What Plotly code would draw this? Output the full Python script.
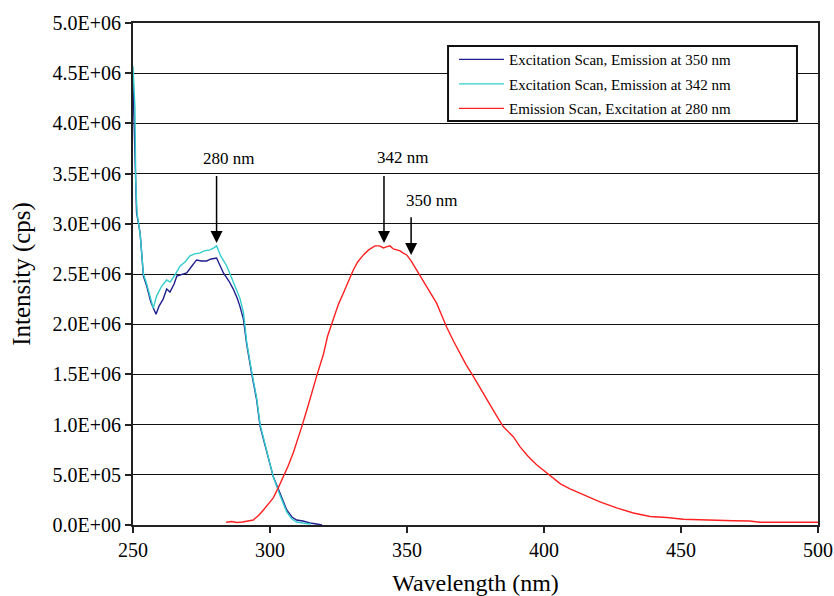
import plotly.graph_objects as go

# Excitation scan, emission at 350 nm (navy)
ex350_x = [250.0, 250.5, 251.3, 252.6, 253.8, 255.0, 256.5, 258.4, 259.5, 261.0, 262.3, 263.5,
           265.0, 266.0, 268.0, 269.6, 271.5, 273.2, 275.0, 276.9, 278.5, 280.5, 281.5, 283.0,
           285.0, 286.6, 288.0, 289.0, 290.3, 291.5, 293.3, 295.1, 296.4, 298.8, 301.2, 303.6,
           306.1, 308.0, 309.7, 312.0, 314.6, 317.0, 319.0]
ex350_y = [4.41e6, 3.97e6, 3.11e6, 2.91e6, 2.48e6, 2.38e6, 2.22e6, 2.10e6, 2.18e6, 2.25e6, 2.35e6, 2.32e6,
           2.40e6, 2.48e6, 2.50e6, 2.51e6, 2.58e6, 2.64e6, 2.63e6, 2.63e6, 2.65e6, 2.66e6, 2.60e6, 2.51e6,
           2.43e6, 2.35e6, 2.26e6, 2.18e6, 2.05e6, 1.80e6, 1.51e6, 1.25e6, 0.98e6, 0.72e6, 0.48e6, 0.32e6,
           0.15e6, 0.08e6, 0.05e6, 0.04e6, 0.02e6, 0.01e6, 0.0]

# Excitation scan, emission at 342 nm (cyan)
ex342_x = [250.0, 250.3, 250.7, 251.0, 251.5, 252.6, 253.8, 255.0, 256.5, 257.4, 258.6, 260.5,
           262.3, 263.5, 265.3, 267.2, 269.0, 270.8, 272.5, 274.5, 276.0, 278.1, 279.5, 280.5,
           282.0, 284.2, 286.0, 287.8, 289.0, 290.3, 291.5, 293.3, 295.1, 296.4, 298.8, 301.2,
           303.6, 306.1, 308.0, 309.7, 312.0, 315.0]
ex342_y = [4.57e6, 4.40e6, 4.16e6, 3.43e6, 3.10e6, 2.90e6, 2.50e6, 2.40e6, 2.25e6, 2.16e6, 2.28e6, 2.38e6,
           2.44e6, 2.42e6, 2.49e6, 2.58e6, 2.62e6, 2.68e6, 2.70e6, 2.71e6, 2.73e6, 2.74e6, 2.76e6, 2.78e6,
           2.68e6, 2.58e6, 2.46e6, 2.35e6, 2.26e6, 2.12e6, 1.82e6, 1.53e6, 1.27e6, 1.00e6, 0.73e6, 0.48e6,
           0.30e6, 0.13e6, 0.06e6, 0.03e6, 0.02e6, 0.01e6]

# Emission scan, excitation at 280 nm (red)
em280_x = [284.0, 286.0, 288.0, 290.0, 293.9, 296.0, 297.6, 299.5, 301.2, 303.0, 304.9, 306.5,
           308.5, 310.0, 311.6, 313.5, 315.0, 317.0, 319.5, 321.0, 323.1, 325.0, 326.8, 328.5,
           330.4, 332.0, 334.1, 336.0, 338.3, 340.0, 341.4, 342.5, 343.8, 345.0, 346.2, 347.5,
           348.5, 349.9, 351.5, 353.5, 355.5, 357.2, 359.0, 360.8, 362.5, 364.5, 367.0, 369.3,
           371.5, 374.2, 376.5, 379.1, 382.0, 385.1, 388.8, 391.2, 394.0, 397.3, 400.0, 403.4,
           406.0, 409.5, 414.3, 420.4, 426.5, 432.6, 438.7, 444.8, 450.8, 456.9, 463.0, 469.1,
           475.0, 478.8, 490.0, 500.0]
em280_y = [2.7e4, 3.5e4, 2.5e4, 3.0e4, 5.0e4, 1.0e5, 1.5e5, 2.1e5, 2.7e5, 3.7e5, 4.8e5, 5.8e5,
           7.2e5, 8.4e5, 9.8e5, 1.15e6, 1.30e6, 1.48e6, 1.70e6, 1.88e6, 2.05e6, 2.20e6, 2.31e6, 2.42e6,
           2.54e6, 2.62e6, 2.69e6, 2.74e6, 2.78e6, 2.78e6, 2.76e6, 2.77e6, 2.78e6, 2.75e6, 2.74e6, 2.73e6,
           2.71e6, 2.69e6, 2.63e6, 2.54e6, 2.46e6, 2.38e6, 2.30e6, 2.21e6, 2.10e6, 1.97e6, 1.83e6, 1.71e6,
           1.60e6, 1.48e6, 1.37e6, 1.25e6, 1.12e6, 0.98e6, 0.88e6, 0.78e6, 0.69e6, 0.60e6, 0.54e6, 0.47e6,
           0.41e6, 0.36e6, 0.30e6, 0.23e6, 0.17e6, 0.12e6, 0.085e6, 0.075e6, 0.057e6, 0.05e6, 0.047e6, 0.043e6,
           0.04e6, 0.027e6, 0.027e6, 0.027e6]

series_names = ["Excitation Scan, Emission at 350 nm",
                "Excitation Scan, Emission at 342 nm",
                "Emission Scan, Excitation at 280 nm"]

x_tick_vals = [250, 300, 350, 400, 450, 500]
y_tick_vals = [0, 5e5, 1e6, 1.5e6, 2e6, 2.5e6, 3e6, 3.5e6, 4e6, 4.5e6, 5e6]
y_tick_text = ["0.0E+00", "5.0E+05", "1.0E+06", "1.5E+06", "2.0E+06", "2.5E+06",
               "3.0E+06", "3.5E+06", "4.0E+06", "4.5E+06", "5.0E+06"]

# annotations: label, arrow x, arrow tail y, arrow tip y, label x, label y
peak_labels = ["280 nm", "342 nm", "350 nm"]
peak_arrow_x = [280.5, 341.6, 351.5]
peak_arrow_tail = [3.49e6, 3.49e6, 3.08e6]
peak_arrow_tip = [2.81e6, 2.81e6, 2.69e6]
peak_label_x = [284.7, 348.4, 359.0]
peak_label_y = [3.65e6, 3.66e6, 3.23e6]

FONT = "Liberation Serif"

fig = go.Figure()
colors = ["#1f1f8f", "#33cccc", "#ff2020"]
for i, (xs, ys, nm, c) in enumerate(zip([ex350_x, ex342_x, em280_x], [ex350_y, ex342_y, em280_y],
                                        series_names, colors)):
    fig.add_trace(go.Scatter(x=xs, y=ys, mode="lines", name=nm, legendgroup=f"g{i}",
                             line=dict(color=c, width=1.4)))

for lab, ax_, tail, tip, lx, ly in zip(peak_labels, peak_arrow_x, peak_arrow_tail, peak_arrow_tip,
                                       peak_label_x, peak_label_y):
    fig.add_annotation(x=ax_, y=tip, ax=ax_, ay=tail, axref="x", ayref="y", xref="x", yref="y",
                       text="", showarrow=True, arrowhead=2, arrowsize=1.6, arrowwidth=1.5,
                       arrowcolor="black", standoff=0, startstandoff=0)
    fig.add_annotation(x=lx, y=ly, xref="x", yref="y", text=lab, showarrow=False,
                       font=dict(family=FONT, size=17, color="black"))

# legend frame (wider than the legend content, as in the original)
fig.add_shape(type="rect", xref="paper", yref="paper", x0=0.4599, x1=0.9693, y0=0.8048, y1=0.9541,
              line=dict(color="#111", width=2), fillcolor="white", layer="above")

fig.update_layout(
    width=834, height=596,
    margin=dict(l=133, r=16, t=23, b=71),
    paper_bgcolor="white", plot_bgcolor="white",
    font=dict(family=FONT, color="black"),
    legend=dict(x=0.4686, y=0.960, xanchor="left", yanchor="top",
                borderwidth=0, bgcolor="rgba(0,0,0,0)", itemwidth=45, tracegroupgap=2,
                font=dict(family=FONT, size=15, color="black")),
    xaxis=dict(range=[250, 500], tickvals=x_tick_vals, showgrid=False, zeroline=False,
               showline=True, linecolor="#222", linewidth=2, mirror=True, automargin=False,
               ticks="outside", ticklen=6, tickwidth=1.5, tickcolor="#222",
               tickfont=dict(family=FONT, size=20),
               title=dict(text="Wavelength (nm)", font=dict(family=FONT, size=24), standoff=16)),
    yaxis=dict(range=[0, 5e6], tickvals=y_tick_vals, ticktext=y_tick_text,
               showgrid=True, gridcolor="#111", gridwidth=1.3, zeroline=False,
               showline=True, linecolor="#222", linewidth=2, mirror=True, automargin=False,
               ticks="outside", ticklen=6, tickwidth=1.5, tickcolor="#222",
               tickfont=dict(family=FONT, size=20),
               title=dict(text="Intensity (cps)", font=dict(family=FONT, size=25), standoff=15)),
)

fig.write_html("out.html", config={"displayModeBar": False},
               post_script="document.body.style.margin='0';document.body.style.overflow='hidden';")
